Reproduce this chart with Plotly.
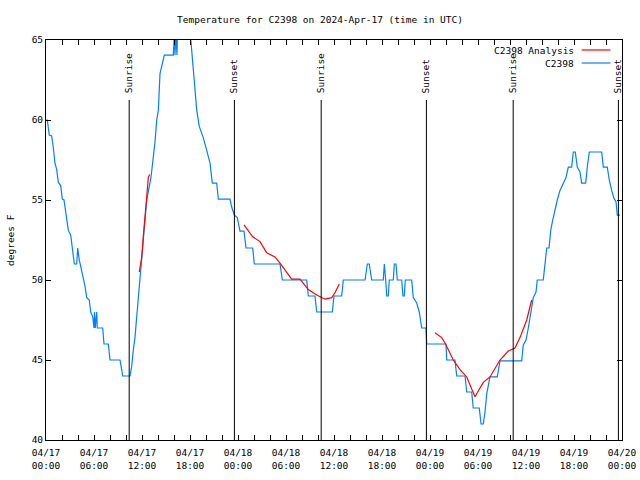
import pandas as pd
import plotly.graph_objects as go

BASE = pd.Timestamp("2024-04-17 00:00")

# Observed station temperatures (hours since 04/17 00:00 UTC, deg F)
obs_hours = [0.0, 0.16, 0.41, 0.71, 0.91, 1.12, 1.34, 1.54, 1.84, 2.04, 2.25, 2.59, 2.79, 3.09, 3.21,
             3.41, 3.54, 3.84, 3.96, 4.16, 4.46, 4.88, 5.09, 5.41, 5.59, 5.84, 6.0, 6.06, 6.16, 6.34,
             6.41, 6.54, 7.09, 7.25, 7.79, 8.0, 9.25, 9.46, 9.59, 10.5, 10.71, 10.91, 11.12, 11.34,
             11.54, 11.75, 11.96, 12.16, 12.29, 12.59, 13.12, 13.62, 13.84, 14.04, 14.25, 14.79,
             15.91, 16.06, 16.12, 16.25, 16.37, 16.44, 16.66, 18.0, 18.34, 18.62, 18.84, 19.16,
             19.66, 20.09, 20.5, 20.79, 21.34, 21.54, 23.0, 23.21, 23.54, 23.91, 24.25, 24.75, 25.0,
             25.84, 26.04, 29.25, 29.54, 32.59, 32.79, 33.62, 33.84, 35.79, 36.0, 36.96, 37.16,
             39.88, 40.16, 40.41, 40.71, 42.16, 42.29, 42.46, 42.59, 42.79, 42.91, 43.41, 43.54,
             43.75, 43.91, 44.46, 44.62, 44.79, 44.91, 45.71, 45.91, 46.34, 46.66, 46.96, 47.5,
             47.59, 50.0, 50.09, 51.12, 51.34, 52.38, 52.59, 53.21, 53.41, 54.16, 54.38, 54.66,
             54.88, 55.09, 55.5, 56.41, 56.75, 59.46, 59.66, 60.0, 60.29, 60.59, 60.91, 61.25,
             61.41, 62.16, 62.38, 62.59, 62.88, 63.09, 63.34, 63.62, 63.91, 64.25, 64.66, 65.0,
             65.29, 65.71, 65.91, 66.16, 66.41, 66.75, 66.96, 67.46, 67.66, 67.91, 69.46, 69.66,
             70.16, 70.41, 70.71, 71.0, 71.25, 71.41, 71.75]
obs_temps = [60.0, 60.0, 59.06, 59.0, 58.3, 57.3, 56.9, 56.1, 55.9, 55.06, 55.0, 53.9, 53.1, 52.8, 52.3,
             51.25, 51.0, 51.0, 52.0, 51.25, 50.6, 49.6, 48.9, 48.75, 48.0, 47.7, 47.0, 48.0, 47.0, 48.0,
             47.0, 47.0, 47.0, 46.0, 46.0, 45.0, 45.0, 44.4, 44.0, 44.0, 44.6, 45.6, 46.4, 47.7,
             48.9, 49.9, 51.25, 52.7, 53.25, 55.0, 56.4, 58.6, 60.0, 60.6, 62.9, 64.06,
             64.06, 65.5, 64.06, 65.5, 64.06, 65.5, 66.0, 65.6, 63.6, 61.9, 60.6, 59.6,
             58.9, 58.1, 57.3, 56.06, 56.06, 55.06, 55.06, 54.56, 54.06, 53.9, 53.06, 53.06, 52.0,
             52.0, 51.0, 51.0, 50.0, 50.0, 49.0, 49.0, 48.0, 48.0, 49.0, 49.0, 50.0,
             50.0, 51.0, 51.0, 50.0, 50.0, 51.0, 50.0, 49.0, 49.0, 50.0, 50.0, 51.0,
             51.0, 50.0, 50.0, 49.0, 49.0, 50.0, 50.0, 48.9, 48.56, 48.0, 47.0, 47.0,
             46.0, 46.0, 45.0, 45.0, 44.0, 44.0, 43.0, 43.0, 42.0, 42.0, 41.0, 41.0,
             41.75, 42.9, 43.94, 43.94, 44.94, 44.94, 45.94, 46.25, 47.0, 47.8, 48.9, 49.25,
             50.0, 50.0, 51.06, 52.0, 52.0, 53.1, 53.75, 54.4, 55.0, 55.6, 56.06, 56.4,
             57.06, 57.06, 58.0, 58.0, 57.06, 56.75, 56.06, 56.06, 57.06, 58.0, 58.0, 57.06,
             57.06, 56.25, 55.6, 55.1, 54.9, 54.06, 54.06]

# Analysis series (None separates segments)
ana_hours = [11.66, 11.96, 12.16, 12.34, 12.59, 12.79, 12.95, None,
             24.75, 25.84, 26.75, 27.59, 28.62, 29.25, 30.71, 31.75, 32.79, 33.84, 34.88, 35.71,
             36.12, 36.66, None,
             48.62, 49.46, 49.88, 50.91, 51.75, 52.59, 53.62, 54.66, 55.5, 56.75, 57.79, 58.62,
             59.25, 60.09, 60.71]
ana_temps = [50.5, 51.4, 52.7, 53.6, 55.2, 56.4, 56.6, None,
             53.44, 52.7, 52.4, 51.7, 51.44, 51.06, 50.06, 50.06, 49.4, 49.06, 48.8, 48.9,
             49.2, 49.75, None,
             46.7, 46.4, 46.06, 45.0, 44.4, 43.94, 42.7, 43.6, 43.94, 45.0, 45.56, 45.75,
             46.4, 47.5, 48.75]

# Sun events (hours since 04/17 00:00 UTC)
sun_hours = [10.4, 23.55, 34.4, 47.55, 58.4, 71.55]
sun_labels = ["Sunrise", "Sunset", "Sunrise", "Sunset", "Sunrise", "Sunset"]

y_ticks = [40, 45, 50, 55, 60, 65]
title_text = "Temperature for C2398 on 2024-Apr-17 (time in UTC)"


def to_time(hours):
    return [None if h is None else BASE + pd.Timedelta(hours=h) for h in hours]


FONT = "DejaVu Sans Mono"
FS = 9.5
BLUE = "#0080ff"
RED = "#ff0000"

fig = go.Figure()
fig.add_trace(go.Scatter(x=to_time(obs_hours), y=obs_temps, mode="lines",
                         line=dict(color=BLUE, width=1.2), name="C2398",
                         showlegend=False, connectgaps=False))
fig.add_trace(go.Scatter(x=to_time(ana_hours), y=ana_temps, mode="lines",
                         line=dict(color=RED, width=1.2), name="C2398 Analysis",
                         showlegend=False, connectgaps=False))

for h, lab in zip(sun_hours, sun_labels):
    t = BASE + pd.Timedelta(hours=h)
    fig.add_shape(type="line", xref="x", yref="paper", x0=t, x1=t, y0=0, y1=0.85,
                  line=dict(color="black", width=1))
    fig.add_annotation(x=t, xref="x", yref="paper", y=0.8625, yanchor="bottom",
                       xanchor="center", text=lab, textangle=-90, showarrow=False,
                       font=dict(family=FONT, size=FS, color="black"))

# Legend (gnuplot style: text then sample)
legend_items = [("C2398 Analysis", RED, 0.975), ("C2398", BLUE, 0.9425)]
for txt, col, yp in legend_items:
    fig.add_annotation(x=0.921, y=yp, xref="paper", yref="paper", xanchor="right",
                       yanchor="middle", text=txt, showarrow=False,
                       font=dict(family=FONT, size=FS, color="black"))
    fig.add_shape(type="line", xref="paper", yref="paper", x0=0.93, x1=0.98, y0=yp, y1=yp,
                  line=dict(color=col, width=1.2))

fig.add_annotation(x=-0.0625, y=0.5, xref="paper", yref="paper", text="degrees F",
                   textangle=-90, showarrow=False, xanchor="center", yanchor="middle",
                   font=dict(family=FONT, size=FS, color="black"))

fig.update_layout(
    width=640, height=480,
    margin=dict(l=46, r=18, t=40, b=40, autoexpand=False),
    paper_bgcolor="white", plot_bgcolor="white",
    title=dict(text=title_text, x=0.5, xanchor="center", y=1 - 20 / 480, yanchor="middle",
               yref="container", font=dict(family=FONT, size=FS, color="black")),
    font=dict(family=FONT, size=FS, color="black"),
    showlegend=False,
    hovermode=False,
)
fig.update_xaxes(
    range=[BASE, BASE + pd.Timedelta(hours=72)], type="date", automargin=False,
    tick0=BASE, dtick=6 * 3600 * 1000, tickformat="%m/%d<br>%H:%M",
    ticks="inside", ticklen=5, tickcolor="black", tickwidth=1, ticklabelstandoff=4,
    minor=dict(dtick=2 * 3600 * 1000, ticks="inside", ticklen=5, tickcolor="black", tickwidth=1),
    showline=True, linecolor="black", linewidth=1, mirror="ticks",
    showgrid=False, zeroline=False,
    tickfont=dict(family=FONT, size=FS, color="black"),
)
fig.update_yaxes(
    range=[40, 65], tickvals=y_ticks, automargin=False,
    ticks="inside", ticklen=5, tickcolor="black", tickwidth=1,
    showline=True, linecolor="black", linewidth=1, mirror="ticks",
    showgrid=False, zeroline=False,
    tickfont=dict(family=FONT, size=FS, color="black"),
)

fig.write_html("out.html", config={"displayModeBar": False},
               post_script="document.body.style.margin='0';document.body.style.overflow='hidden';")
